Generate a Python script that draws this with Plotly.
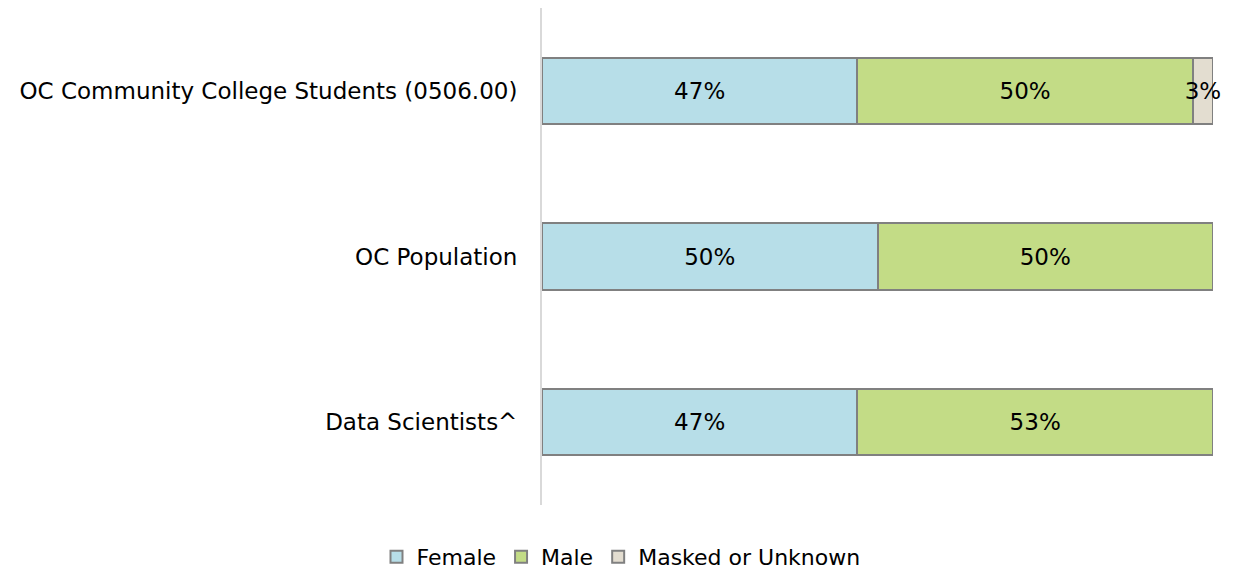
import plotly.graph_objects as go

categories = ["OC Community College Students (0506.00)", "OC Population", "Data Scientists^"]
female = [0.47, 0.50, 0.47]
male = [0.50, 0.50, 0.53]
unknown = [0.03, 0.0, 0.0]
series_names = ["Female", "Male", "Masked or Unknown"]
colors = ["#B7DEE8", "#C3DC86", "#E3DDD0"]

FONT = "'DejaVu Sans', sans-serif"

fig = go.Figure()
for name, vals, col in zip(series_names, [female, male, unknown], colors):
    fig.add_trace(go.Bar(
        y=categories, x=vals, name=name, orientation="h",
        marker=dict(color=col, line=dict(color="#808080", width=2)),
        text=[f"{round(v*100)}%" if v > 0 else "" for v in vals],
        textposition="inside", insidetextanchor="middle", constraintext="none",
        textangle=0, cliponaxis=False,
        textfont=dict(family=FONT, size=23, color="#000000"),
        width=0.4,
    ))

fig.update_layout(
    barmode="stack",
    width=1226, height=563,
    margin=dict(l=534, r=21, t=0, b=66, autoexpand=False),
    paper_bgcolor="white", plot_bgcolor="white",
    font=dict(family=FONT, size=23, color="#000000"),
    showlegend=True,
    legend=dict(orientation="h", x=0.5, xref="container", xanchor="center",
                y=0.025, yref="container", yanchor="middle", itemwidth=30,
                font=dict(family=FONT, size=22), traceorder="normal"),
    xaxis=dict(range=[0, 1], visible=False, showgrid=False, zeroline=False, automargin=False),
    yaxis=dict(autorange="reversed", showline=True, linecolor="#D9D9D9", linewidth=2,
               ticks="", showgrid=False, ticklabelstandoff=18, automargin=False,
               tickfont=dict(family=FONT, size=23)),
)

fig.write_html("out.html")
